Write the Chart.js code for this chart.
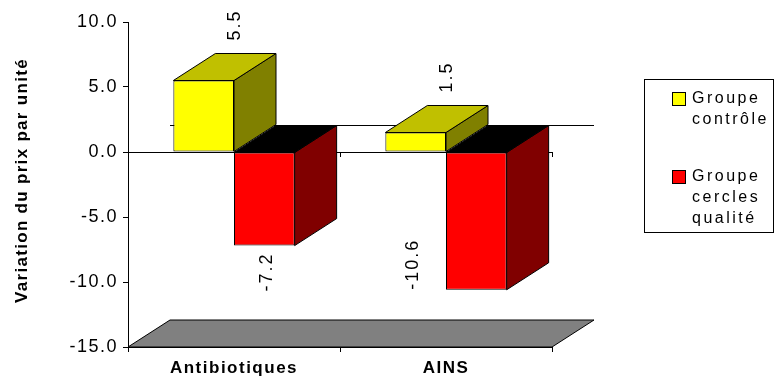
<!DOCTYPE html>
<html>
<head>
<meta charset="utf-8">
<script src="https://cdn.jsdelivr.net/npm/chart.js@4/dist/chart.umd.min.js"></script>
<style>
  html, body { margin: 0; padding: 0; background: #fff; }
  #wrap { width: 780px; height: 380px; position: relative; }
</style>
</head>
<body>
<div id="wrap"><canvas id="c" width="780" height="380"></canvas></div>
<script>
// Price change per unit, by drug class and study group
const categories = ['Antibiotiques', 'AINS'];
const seriesNames = ['Groupe contrôle', 'Groupe cercles qualité'];
const controlValues = [5.5, 1.5];
const circleValues = [-7.2, -10.6];
const yTicks = [-15, -10, -5, 0, 5, 10];
const yTitle = 'Variation du prix par unité';

const FONT = '"Liberation Sans", Arial, sans-serif';
const DX = 42, DY = 27;            // depth of the 3D boxes
const faces = [
  { front: '#FFFF00', top: '#C0C000', side: '#808000', bottomTop: '#000000' },
  { front: '#FF0000', top: '#C00000', side: '#800000', bottomTop: '#000000' }
];

function poly(ctx, pts, fill) {
  ctx.beginPath();
  ctx.moveTo(pts[0][0], pts[0][1]);
  for (let i = 1; i < pts.length; i++) ctx.lineTo(pts[i][0], pts[i][1]);
  ctx.closePath();
  ctx.fillStyle = fill;
  ctx.fill();
  ctx.stroke();
}
function seg(ctx, x1, y1, x2, y2) {
  ctx.beginPath();
  ctx.moveTo(x1, y1);
  ctx.lineTo(x2, y2);
  ctx.stroke();
}
function barBox(el) {
  const p = el.getProps(['x', 'y', 'base', 'width'], true);
  return {
    left: p.x - p.width / 2, right: p.x + p.width / 2,
    top: Math.min(p.y, p.base), bottom: Math.max(p.y, p.base), cx: p.x
  };
}

const box3d = {
  id: 'box3d',
  beforeDraw(chart) {
    chart.ctx.letterSpacing = '1.5px';
  },
  beforeDatasetsDraw(chart) {
    const { ctx, chartArea: a, scales: { x, y } } = chart;
    const y0 = y.getPixelForValue(0);
    const yf = y.getPixelForValue(y.min);
    ctx.save();
    ctx.lineWidth = 1;
    ctx.strokeStyle = '#000';
    // floor
    poly(ctx, [[a.left, yf], [a.right, yf], [a.right + DX, yf - DY], [a.left + DX, yf - DY]], '#808080');
    // zero line on the back plane
    seg(ctx, a.left + DX, y0 - DY + 0.5, a.right + DX, y0 - DY + 0.5);
    // zero line on the front plane, with category separators
    seg(ctx, a.left, y0 + 0.5, a.right, y0 + 0.5);
    const n = categories.length;
    for (let i = 1; i <= n; i++) {
      const bx = i < n ? (x.getPixelForValue(i - 1) + x.getPixelForValue(i)) / 2 : a.right;
      seg(ctx, Math.round(bx) + 0.5, y0, Math.round(bx) + 0.5, y0 + 5);
    }
    // top and side faces of each box
    for (let c = 0; c < n; c++) {
      chart.data.datasets.forEach((ds, d) => {
        const b = barBox(chart.getDatasetMeta(d).data[c]);
        const f = faces[d];
        const neg = ds.data[c] < 0;
        poly(ctx, [[b.right, b.top], [b.right + DX, b.top - DY], [b.right + DX, b.bottom - DY], [b.right, b.bottom]], f.side);
        poly(ctx, [[b.left, b.top], [b.left + DX, b.top - DY], [b.right + DX, b.top - DY], [b.right, b.top]], neg ? f.bottomTop : f.top);
      });
    }
    ctx.restore();
  },
  afterDatasetsDraw(chart) {
    const { ctx, scales: { y } } = chart;
    const floorBack = y.getPixelForValue(y.min) - DY;
    ctx.save();
    ctx.fillStyle = '#000';
    ctx.font = '18px ' + FONT;
    ctx.letterSpacing = '2px';
    ctx.textBaseline = 'middle';
    chart.data.datasets.forEach((ds, d) => {
      chart.getDatasetMeta(d).data.forEach((el, c) => {
        const v = ds.data[c];
        const txt = v.toFixed(1);
        const w = ctx.measureText(txt).width;
        const b = barBox(el);
        let px, py, align;
        if (v >= 0) {
          px = b.cx + DX * 0.75; py = b.top - DY - 13; align = 'left';
        } else if (b.bottom + 7 + w < floorBack) {
          px = b.cx + 3; py = b.bottom + 7; align = 'right';
        } else {
          px = b.left - 33; py = b.bottom; align = 'left';
        }
        ctx.save();
        ctx.translate(px, py);
        ctx.rotate(-Math.PI / 2);
        ctx.textAlign = align;
        ctx.fillText(txt, 0, 0);
        ctx.restore();
      });
    });
    ctx.restore();
  },
  afterDraw(chart) {
    const { ctx, chartArea: a } = chart;
    ctx.save();
    ctx.fillStyle = '#000';
    ctx.letterSpacing = '1.3px';
    // value axis title
    ctx.font = 'bold 17px ' + FONT;
    ctx.translate(22, (a.top + a.bottom) / 2 - 4);
    ctx.rotate(-Math.PI / 2);
    ctx.textAlign = 'center';
    ctx.textBaseline = 'middle';
    ctx.fillText(yTitle, 0, 0);
    ctx.restore();

    // legend
    ctx.save();
    ctx.lineWidth = 1;
    ctx.strokeStyle = '#000';
    ctx.strokeRect(644.5, 79.5, 129, 153);
    ctx.font = '16px ' + FONT;
    ctx.letterSpacing = '2.5px';
    ctx.textBaseline = 'middle';
    ctx.textAlign = 'left';
    const entryTop = [99, 177];
    seriesNames.forEach((name, i) => {
      const yy = entryTop[i];
      ctx.fillStyle = faces[i].front;
      ctx.fillRect(672.5, yy - 6.5, 13, 13);
      ctx.strokeRect(672.5, yy - 6.5, 13, 13);
      ctx.fillStyle = '#000';
      name.split(' ').forEach((word, k) => ctx.fillText(word, 692, yy + k * 21));
    });
    ctx.restore();
  }
};

new Chart(document.getElementById('c'), {
  type: 'bar',
  data: {
    labels: categories,
    datasets: [
      { label: seriesNames[0], data: controlValues, backgroundColor: faces[0].front },
      { label: seriesNames[1], data: circleValues, backgroundColor: faces[1].front }
    ]
  },
  options: {
    responsive: false,
    animation: false,
    devicePixelRatio: 1,
    layout: { padding: { left: 0, top: 22, right: 228, bottom: 0 } },
    datasets: {
      bar: {
        borderColor: '#000', borderWidth: 1, borderSkipped: false,
        categoryPercentage: 0.572, barPercentage: 1
      }
    },
    plugins: { legend: { display: false }, tooltip: { enabled: false } },
    scales: {
      x: {
        grid: { offset: true, drawOnChartArea: false, color: '#000', tickLength: 5 },
        border: { display: true, color: '#000' },
        ticks: { color: '#000', font: { family: FONT, size: 17, weight: 'bold' }, padding: 6 },
        afterFit(s) { s.height = 33; }
      },
      y: {
        min: -15, max: 10,
        afterBuildTicks(s) { s.ticks = yTicks.map(v => ({ value: v })); },
        grid: { drawOnChartArea: false, color: '#000', tickLength: 5 },
        border: { display: true, color: '#000' },
        ticks: { color: '#000', font: { family: FONT, size: 18 }, padding: 5, callback: v => v.toFixed(1) },
        afterFit(s) { s.width = 128; }
      }
    }
  },
  plugins: [box3d]
});
</script>
</body>
</html>
